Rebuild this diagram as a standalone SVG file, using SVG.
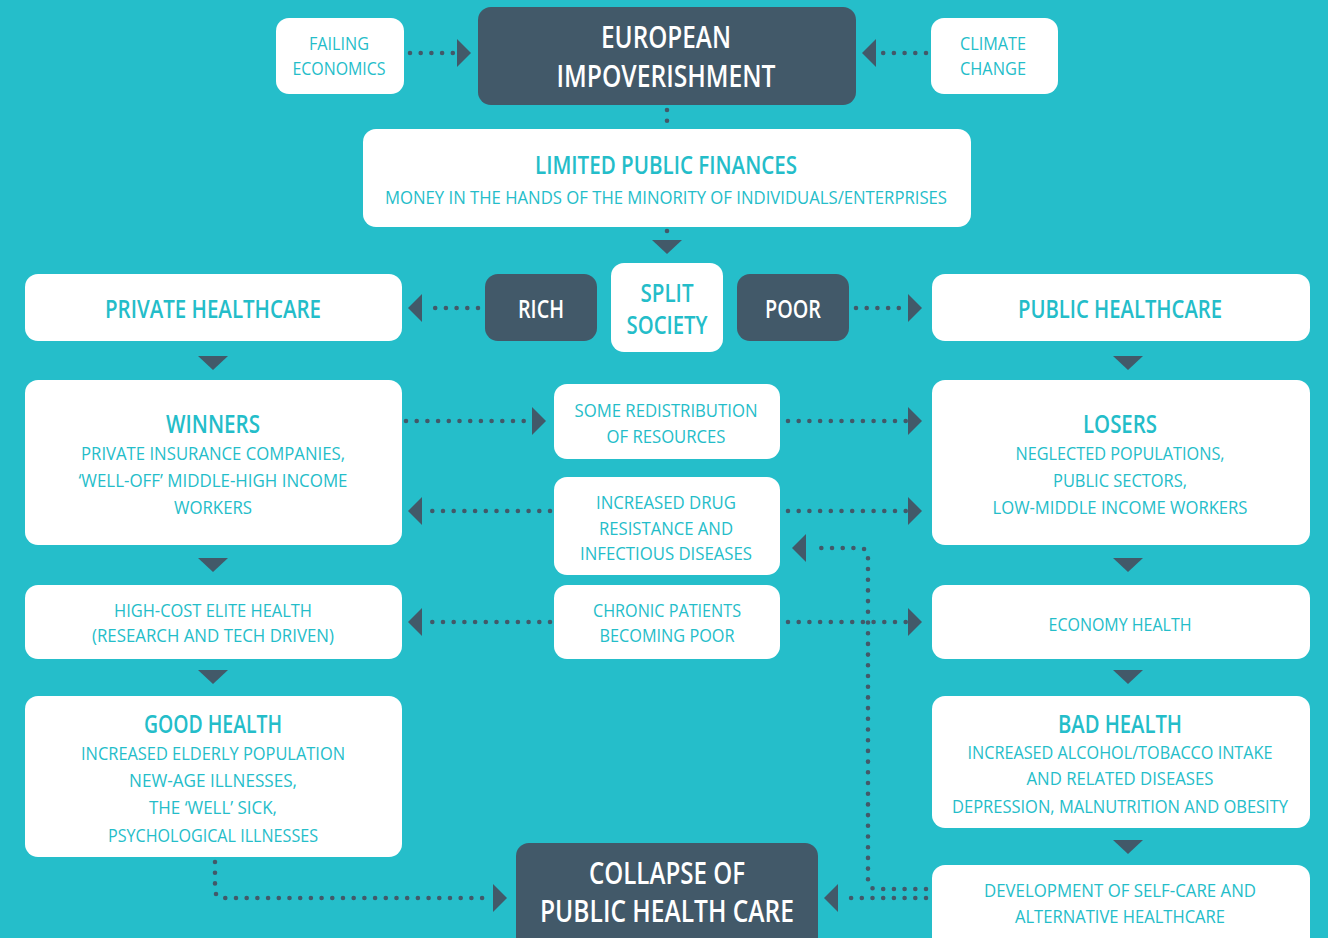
<svg xmlns="http://www.w3.org/2000/svg" width="1328" height="938" viewBox="0 0 1328 938">
<style>
.bx{fill:#ffffff}
.dk{fill:#425969}
.t{font-family:"Open Sans","Liberation Sans",sans-serif;font-size:19px;fill:#24BDC9;text-anchor:middle}
.h{font-family:"Open Sans","Liberation Sans",sans-serif;font-size:25px;font-weight:600;fill:#24BDC9;text-anchor:middle}
.w{font-family:"Open Sans","Liberation Sans",sans-serif;font-size:30px;font-weight:600;fill:#ffffff;text-anchor:middle}
.wm{font-family:"Open Sans","Liberation Sans",sans-serif;font-size:25px;font-weight:600;fill:#ffffff;text-anchor:middle}
.d{fill:none;stroke:#425969;stroke-width:4.6;stroke-linecap:round;stroke-dasharray:0 10.7}
.a{fill:#425969}
</style>
<rect width="1328" height="938" fill="#25BECA"/>

<g id="connectors">
<path class="d" d="M410 53H455"/>
<polygon class="a" points="471,53 457,39 457,67"/>
<path class="d" d="M926 53H880"/>
<polygon class="a" points="862,53 876,39 876,67"/>
<path class="d" d="M667 110V122"/>
<path class="d" d="M667 231V237"/>
<polygon class="a" points="652,240 682,240 667,254"/>
<path class="d" d="M478 308H430"/>
<polygon class="a" points="408,308 422,294 422,322"/>
<path class="d" d="M856 308H906"/>
<polygon class="a" points="922,308 908,294 908,322"/>
<polygon class="a" points="198,356 228,356 213,370"/>
<polygon class="a" points="198,558 228,558 213,572"/>
<polygon class="a" points="198,670 228,670 213,684"/>
<polygon class="a" points="1113,356 1143,356 1128,370"/>
<polygon class="a" points="1113,558 1143,558 1128,572"/>
<polygon class="a" points="1113,670 1143,670 1128,684"/>
<polygon class="a" points="1113,840 1143,840 1128,854"/>
<path class="d" d="M406 421H530"/>
<polygon class="a" points="546,421 532,407 532,435"/>
<path class="d" d="M788 421H906"/>
<polygon class="a" points="922,421 908,407 908,435"/>
<path class="d" d="M550 511H430"/>
<polygon class="a" points="408,511 422,497 422,525"/>
<path class="d" d="M788 511H906"/>
<polygon class="a" points="922,511 908,497 908,525"/>
<path class="d" d="M550 622H430"/>
<polygon class="a" points="408,622 422,608 422,636"/>
<path class="d" d="M788 622H906"/>
<polygon class="a" points="922,622 908,608 908,636"/>
<path class="d" d="M926 889H877Q868 889 868 880V557Q868 548 859 548H812"/>
<polygon class="a" points="792,548 806,534 806,562"/>
<path class="d" d="M926 898H848"/>
<polygon class="a" points="824,898 838,884 838,912"/>
<path class="d" d="M215 862V889Q215 898 224 898H490"/>
<polygon class="a" points="507,898 493,884 493,912"/>
</g>

<g id="failing-economics">
<rect class="bx" x="276" y="18" width="128" height="76" rx="13"/>
<text class="t" x="339" y="50" textLength="60" lengthAdjust="spacingAndGlyphs">FAILING</text>
<text class="t" x="339" y="75" textLength="93" lengthAdjust="spacingAndGlyphs">ECONOMICS</text>
</g>
<g id="european-impoverishment">
<rect class="dk" x="478" y="7" width="378" height="98" rx="13"/>
<text class="w" x="666" y="48" textLength="130" lengthAdjust="spacingAndGlyphs">EUROPEAN</text>
<text class="w" x="666" y="87" textLength="219" lengthAdjust="spacingAndGlyphs">IMPOVERISHMENT</text>
</g>
<g id="climate-change">
<rect class="bx" x="931" y="18" width="127" height="76" rx="13"/>
<text class="t" x="993" y="50" textLength="66" lengthAdjust="spacingAndGlyphs">CLIMATE</text>
<text class="t" x="993" y="75" textLength="66" lengthAdjust="spacingAndGlyphs">CHANGE</text>
</g>
<g id="limited-public-finances">
<rect class="bx" x="363" y="129" width="608" height="98" rx="13"/>
<text class="h" x="666" y="174" textLength="262" lengthAdjust="spacingAndGlyphs">LIMITED PUBLIC FINANCES</text>
<text class="t" x="666" y="204" textLength="562" lengthAdjust="spacingAndGlyphs">MONEY IN THE HANDS OF THE MINORITY OF INDIVIDUALS/ENTERPRISES</text>
</g>
<g id="private-healthcare">
<rect class="bx" x="25" y="274" width="377" height="67" rx="13"/>
<text class="h" x="213" y="318" textLength="216" lengthAdjust="spacingAndGlyphs">PRIVATE HEALTHCARE</text>
</g>
<g id="rich">
<rect class="dk" x="485" y="274" width="112" height="67" rx="13"/>
<text class="wm" x="541" y="318" textLength="46" lengthAdjust="spacingAndGlyphs">RICH</text>
</g>
<g id="split-society">
<rect class="bx" x="611" y="263" width="112" height="89" rx="13"/>
<text class="h" x="667" y="302" textLength="53" lengthAdjust="spacingAndGlyphs">SPLIT</text>
<text class="h" x="667" y="334" textLength="81" lengthAdjust="spacingAndGlyphs">SOCIETY</text>
</g>
<g id="poor">
<rect class="dk" x="737" y="274" width="112" height="67" rx="13"/>
<text class="wm" x="793" y="318" textLength="56" lengthAdjust="spacingAndGlyphs">POOR</text>
</g>
<g id="public-healthcare">
<rect class="bx" x="932" y="274" width="378" height="67" rx="13"/>
<text class="h" x="1120" y="318" textLength="204" lengthAdjust="spacingAndGlyphs">PUBLIC HEALTHCARE</text>
</g>
<g id="winners">
<rect class="bx" x="25" y="380" width="377" height="165" rx="13"/>
<text class="h" x="213" y="433" textLength="94" lengthAdjust="spacingAndGlyphs">WINNERS</text>
<text class="t" x="213" y="460" textLength="264" lengthAdjust="spacingAndGlyphs">PRIVATE INSURANCE COMPANIES,</text>
<text class="t" x="213" y="487" textLength="269" lengthAdjust="spacingAndGlyphs">‘WELL-OFF’ MIDDLE-HIGH INCOME</text>
<text class="t" x="213" y="514" textLength="78" lengthAdjust="spacingAndGlyphs">WORKERS</text>
</g>
<g id="some-redistribution">
<rect class="bx" x="554" y="384" width="226" height="75" rx="13"/>
<text class="t" x="666" y="417" textLength="183" lengthAdjust="spacingAndGlyphs">SOME REDISTRIBUTION</text>
<text class="t" x="666" y="443" textLength="119" lengthAdjust="spacingAndGlyphs">OF RESOURCES</text>
</g>
<g id="drug-resistance">
<rect class="bx" x="554" y="477" width="226" height="98" rx="13"/>
<text class="t" x="666" y="509" textLength="140" lengthAdjust="spacingAndGlyphs">INCREASED DRUG</text>
<text class="t" x="666" y="535" textLength="134" lengthAdjust="spacingAndGlyphs">RESISTANCE AND</text>
<text class="t" x="666" y="560" textLength="172" lengthAdjust="spacingAndGlyphs">INFECTIOUS DISEASES</text>
</g>
<g id="losers">
<rect class="bx" x="932" y="380" width="378" height="165" rx="13"/>
<text class="h" x="1120" y="433" textLength="74" lengthAdjust="spacingAndGlyphs">LOSERS</text>
<text class="t" x="1120" y="460" textLength="209" lengthAdjust="spacingAndGlyphs">NEGLECTED POPULATIONS,</text>
<text class="t" x="1120" y="487" textLength="134" lengthAdjust="spacingAndGlyphs">PUBLIC SECTORS,</text>
<text class="t" x="1120" y="514" textLength="255" lengthAdjust="spacingAndGlyphs">LOW-MIDDLE INCOME WORKERS</text>
</g>
<g id="high-cost-elite-health">
<rect class="bx" x="25" y="585" width="377" height="74" rx="13"/>
<text class="t" x="213" y="617" textLength="198" lengthAdjust="spacingAndGlyphs">HIGH-COST ELITE HEALTH</text>
<text class="t" x="213" y="642" textLength="242" lengthAdjust="spacingAndGlyphs">(RESEARCH AND TECH DRIVEN)</text>
</g>
<g id="chronic-patients">
<rect class="bx" x="554" y="585" width="226" height="74" rx="13"/>
<text class="t" x="667" y="617" textLength="148" lengthAdjust="spacingAndGlyphs">CHRONIC PATIENTS</text>
<text class="t" x="667" y="642" textLength="135" lengthAdjust="spacingAndGlyphs">BECOMING POOR</text>
</g>
<g id="economy-health">
<rect class="bx" x="932" y="585" width="378" height="74" rx="13"/>
<text class="t" x="1120" y="631" textLength="143" lengthAdjust="spacingAndGlyphs">ECONOMY HEALTH</text>
</g>
<g id="good-health">
<rect class="bx" x="25" y="696" width="377" height="161" rx="13"/>
<text class="h" x="213" y="733" textLength="138" lengthAdjust="spacingAndGlyphs">GOOD HEALTH</text>
<text class="t" x="213" y="760" textLength="264" lengthAdjust="spacingAndGlyphs">INCREASED ELDERLY POPULATION</text>
<text class="t" x="213" y="787" textLength="168" lengthAdjust="spacingAndGlyphs">NEW-AGE ILLNESSES,</text>
<text class="t" x="213" y="814" textLength="128" lengthAdjust="spacingAndGlyphs">THE ‘WELL’ SICK,</text>
<text class="t" x="213" y="842" textLength="210" lengthAdjust="spacingAndGlyphs">PSYCHOLOGICAL ILLNESSES</text>
</g>
<g id="bad-health">
<rect class="bx" x="932" y="696" width="378" height="132" rx="13"/>
<text class="h" x="1120" y="733" textLength="124" lengthAdjust="spacingAndGlyphs">BAD HEALTH</text>
<text class="t" x="1120" y="759" textLength="305" lengthAdjust="spacingAndGlyphs">INCREASED ALCOHOL/TOBACCO INTAKE</text>
<text class="t" x="1120" y="785" textLength="187" lengthAdjust="spacingAndGlyphs">AND RELATED DISEASES</text>
<text class="t" x="1120" y="813" style="font-size:17.5px" textLength="336" lengthAdjust="spacingAndGlyphs">DEPRESSION, MALNUTRITION AND OBESITY</text>
</g>
<g id="self-care">
<rect class="bx" x="932" y="865" width="378" height="95" rx="13"/>
<text class="t" x="1120" y="897" textLength="272" lengthAdjust="spacingAndGlyphs">DEVELOPMENT OF SELF-CARE AND</text>
<text class="t" x="1120" y="923" textLength="210" lengthAdjust="spacingAndGlyphs">ALTERNATIVE HEALTHCARE</text>
</g>
<g id="collapse">
<rect class="dk" x="516" y="843" width="302" height="120" rx="13"/>
<text class="w" x="667" y="884" textLength="156" lengthAdjust="spacingAndGlyphs">COLLAPSE OF</text>
<text class="w" x="667" y="922" textLength="254" lengthAdjust="spacingAndGlyphs">PUBLIC HEALTH CARE</text>
</g>
</svg>
